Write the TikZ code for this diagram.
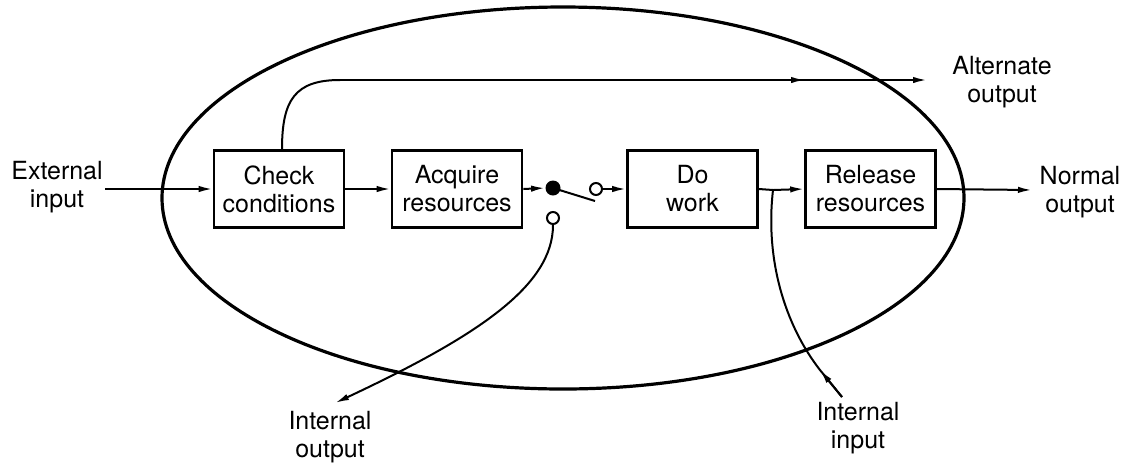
\documentclass[tikz,border=0pt]{standalone}
\usepackage{fontspec}
\setmainfont{TeX Gyre Heros}
\usetikzlibrary{shapes.geometric,arrows.meta}
\begin{document}
\begin{tikzpicture}[x=0.5pt,y=-0.5pt,
  every node/.style={font=\fontsize{12.5}{14}\selectfont, align=center},
  stagebox/.style={draw, line width=1.3pt, minimum width=65pt, minimum height=38.5pt, inner sep=1pt},
  flow/.style={line width=1pt},
  arr/.style={flow, -{Latex[length=7pt,width=3.2pt]}},
  contact/.style={circle, draw, line width=1pt, fill=white, minimum size=6pt, inner sep=0pt}]
\useasboundingbox (0,0) rectangle (1131,468);
\node[ellipse, draw, line width=1.6pt, minimum width=401pt, minimum height=191pt, inner sep=0pt] (process) at (563,198){};
\node[stagebox] (check) at (279,189){Check\\conditions};
\node[stagebox] (acquire) at (457,189){Acquire\\resources};
\node[stagebox] (dowork) at (692.5,189){Do\\work};
\node[stagebox] (release) at (870.5,189){Release\\resources};
\node[inner sep=1pt] (extin) at (57,187){External\\input};
\node (altout) at (1002,82){Alternate\\output};
\node (normout) at (1080,192){Normal\\output};
\node (intout) at (330,437){Internal\\output};
\node (intin) at (858,428){Internal\\input};
% switch
\node[circle, fill, minimum size=7.5pt, inner sep=0pt] (swdot) at (553,188){};
\node[contact] (swopen) at (596,189){};
\node[contact] (swlow) at (553,218){};
\coordinate (lever) at (595,201);
\coordinate (join) at (773,190);
\coordinate (altbend) at (340,80);
\coordinate (altmid) at (805,80);
\coordinate (altend) at (927,80);
\coordinate (normend) at (1032,190);
\coordinate (intouttip) at (335,403);
\coordinate (intinstart) at (842,397);
\coordinate (intinhead) at (820,370);
\draw[arr](extin.east |- check.west) -- (check.west);
\draw[arr](check) -- (acquire);
\draw[arr](acquire.east) -- (swdot.west);
\draw[flow](swdot.center) -- (lever);
\draw[arr](swopen) -- (dowork.west |- swopen);
\draw[flow](dowork.east) -- (join);
\draw[arr](join) -- (release.west);
\draw[arr](release.east) -- (normend);
\draw[flow](check.north -| 282,0) .. controls (282,100) and (295,80) .. (altbend);
\draw[arr](altbend) -- (altmid);
\draw[arr](altbend) -- (altend);
\draw[arr](swlow.south) .. controls (553,285) and (480,335) .. (intouttip);
\draw[arr](intinstart) -- (intinhead);
\draw[flow](intinstart) -- (intinhead) .. controls (785,325) and (765,260) .. (join);
\end{tikzpicture}
\end{document}
